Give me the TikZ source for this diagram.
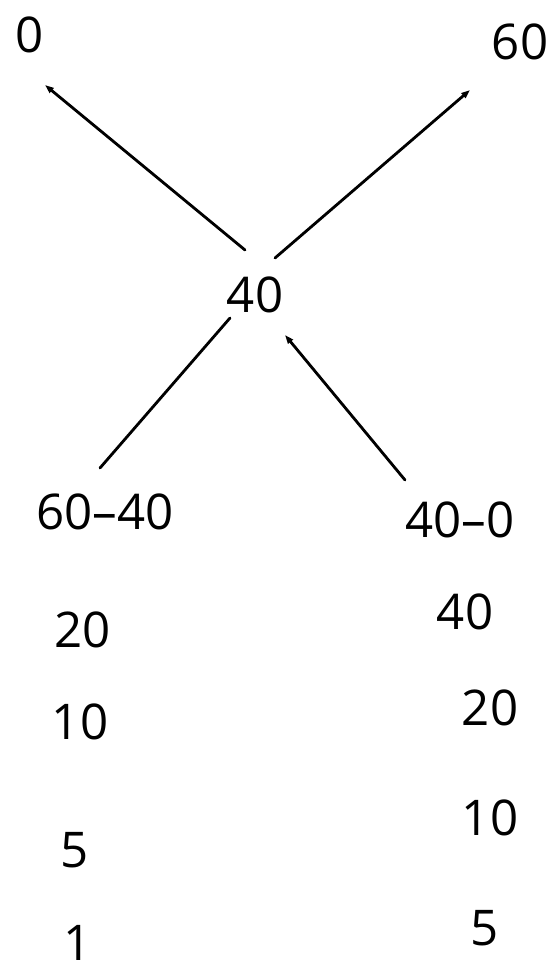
\documentclass[tikz,border=0pt]{standalone}
\usepackage{fontspec}
\setmainfont{Open Sans}
\usetikzlibrary{arrows.meta,positioning}

\begin{document}
\begin{tikzpicture}[line width=1.6pt, line cap=round, >={Triangle[length=5pt,width=3.5pt]},
  num/.style={inner sep=0pt, font=\fontsize{28}{34}\selectfont}]
\path[use as bounding box, fill=white] (0,0) rectangle (11.16,-19.4);
\node[num] (n0) at (0.6,-0.7) {0};
\node[num] (n60) at (10.4,-0.84) {60};
\node[num] (n40) at (5.1,-5.9) {40};
\node[num] (d6040) at (2.1,-10.24) {60--40};
\node[num] (d400) at (9.2,-10.4) {40--0};
% left column
\node[num] (a20) at (1.65,-12.6) {20};
\node[num] (a10) at (1.6,-14.44) {10};
\node[num] (a5) at (1.5,-17.0) {5};
\node[num] (a1) at (1.56,-18.85) {1};
% right column
\node[num] (b40) at (9.3,-12.24) {40};
\node[num] (b20) at (9.8,-14.16) {20};
\node[num] (b10) at (9.8,-16.36) {10};
\node[num] (b5) at (9.7,-18.56) {5};
\draw[<-] ([shift={(0.3,-1.0)}]n0.center) -- ([shift={(-0.2,0.9)}]n40.center);
\draw[->] ([shift={(0.4,0.74)}]n40.center) -- ([shift={(-1.0,-0.96)}]n60.center);
\draw ([shift={(-0.5,-0.46)}]n40.center) -- ([shift={(-0.1,0.88)}]d6040.center);
\draw[<-] ([shift={(0.6,-0.8)}]n40.center) -- ([shift={(-1.1,0.8)}]d400.center);
\end{tikzpicture}
\end{document}
